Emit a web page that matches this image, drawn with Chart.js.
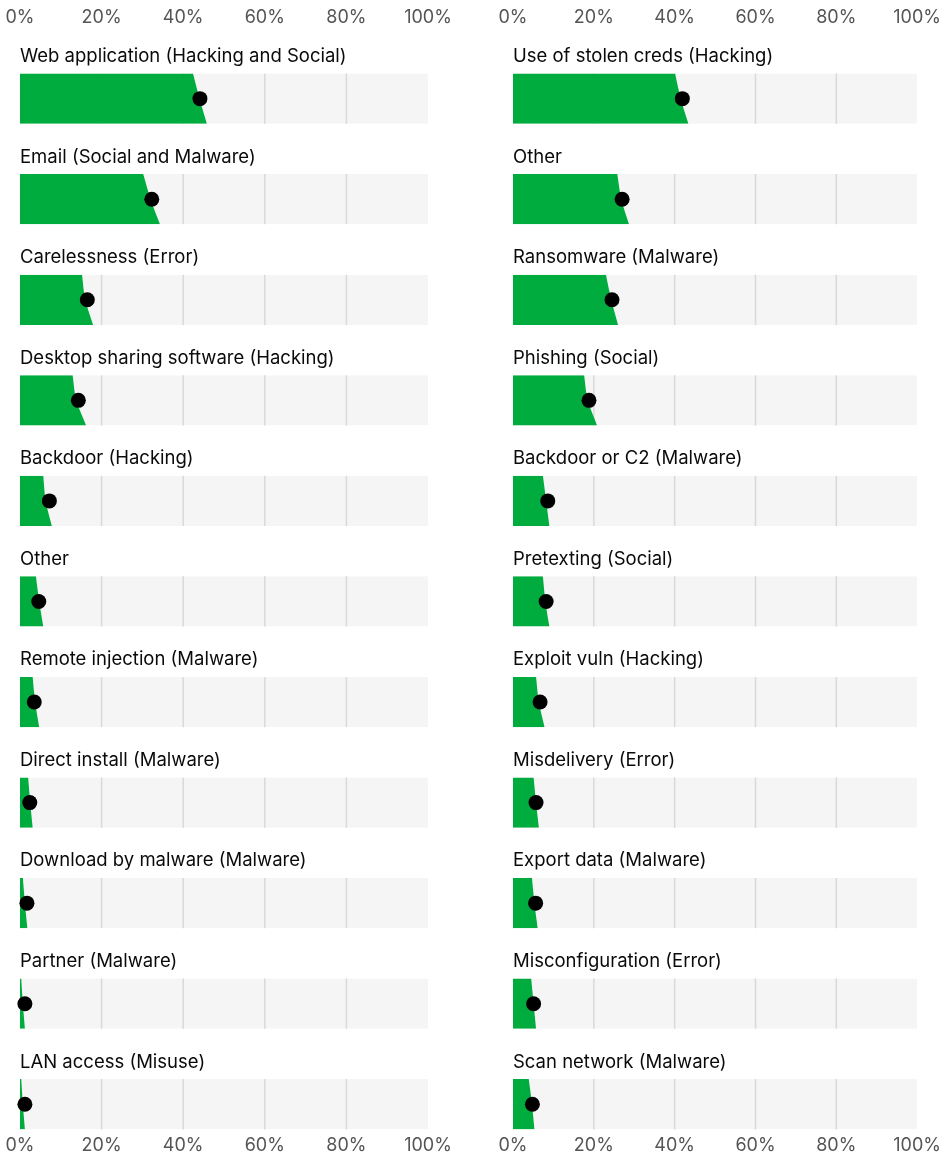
<!DOCTYPE html>
<html>
<head>
<meta charset="utf-8">
<script src="https://cdn.jsdelivr.net/npm/chart.js@4.4.1/dist/chart.umd.min.js"></script>
<style>
  html, body { margin: 0; background: #fff; }
  .wrap { display: flex; width: 946px; height: 1161px; }
  .panel { width: 473px; height: 1161px; }
</style>
</head>
<body>
<div class="wrap">
  <div class="panel"><canvas id="left" width="473" height="1161"></canvas></div>
  <div class="panel"><canvas id="right" width="473" height="1161"></canvas></div>
</div>
<script>
// axis ticks (percent)
const tickValues = [0, 20, 40, 60, 80, 100];
const gridValues = [20, 40, 60, 80];

// left panel
const leftLabels = [
  'Web application (Hacking and Social)',
  'Email (Social and Malware)',
  'Carelessness (Error)',
  'Desktop sharing software (Hacking)',
  'Backdoor (Hacking)',
  'Other',
  'Remote injection (Malware)',
  'Direct install (Malware)',
  'Download by malware (Malware)',
  'Partner (Malware)',
  'LAN access (Misuse)'
];
const leftLow  = [42.4, 30.2, 15.2, 12.9, 5.7, 3.9, 3.1, 2.0, 0.7, 0.3, 0.3];
const leftMid  = [44.0, 32.0, 16.0, 13.8, 6.3, 4.7, 3.7, 2.5, 1.2, 0.7, 0.7];
const leftHigh = [45.8, 34.3, 17.9, 16.2, 7.8, 5.7, 4.7, 3.1, 1.8, 1.2, 1.2];
const leftDot  = [44.1, 32.3, 16.5, 14.3, 7.2, 4.6, 3.5, 2.4, 1.7, 1.2, 1.2];

// right panel
const rightLabels = [
  'Use of stolen creds (Hacking)',
  'Other',
  'Ransomware (Malware)',
  'Phishing (Social)',
  'Backdoor or C2 (Malware)',
  'Pretexting (Social)',
  'Exploit vuln (Hacking)',
  'Misdelivery (Error)',
  'Export data (Malware)',
  'Misconfiguration (Error)',
  'Scan network (Malware)'
];
const rightLow  = [40.1, 25.8, 23.0, 17.6, 7.4, 7.4, 5.7, 5.1, 4.7, 4.5, 3.9];
const rightMid  = [41.5, 26.8, 24.3, 18.5, 8.2, 8.0, 6.4, 5.7, 5.3, 5.1, 4.7];
const rightHigh = [43.4, 28.7, 26.0, 20.8, 9.0, 9.0, 7.8, 6.4, 6.1, 5.7, 5.3];
const rightDot  = [41.9, 27.0, 24.5, 18.8, 8.6, 8.2, 6.7, 5.7, 5.6, 5.1, 4.8];

const GREEN = '#00ac3e';
const BAND_BG = '#f5f5f5';
const GRID = '#d9d9d9';
const HALF = 0.25;        // half band height in row units
const LABEL_OFFSET = 0.42; // label sits above its band

function buildDatasets(low, mid, high, dots) {
  const sets = [];
  // grey bands
  low.forEach((_, i) => {
    sets.push({
      type: 'line', indexAxis: 'y', xAxisID: 'x', yAxisID: 'y',
      data: [{x: 100, y: i - HALF}, {x: 100, y: i + HALF}],
      fill: 'origin', backgroundColor: BAND_BG,
      borderWidth: 0, pointRadius: 0, order: 4, clip: false
    });
  });
  // grid lines inside bands only
  gridValues.forEach(t => {
    const pts = [];
    low.forEach((_, i) => {
      pts.push({x: t, y: i - HALF}, {x: t, y: i + HALF}, {x: t, y: null});
    });
    sets.push({
      type: 'line', indexAxis: 'y', xAxisID: 'x', yAxisID: 'y',
      data: pts, borderColor: GRID, borderWidth: 1.5,
      pointRadius: 0, spanGaps: false, fill: false, order: 3, clip: false
    });
  });
  // green slabs
  low.forEach((lo, i) => {
    sets.push({
      type: 'line', indexAxis: 'y', xAxisID: 'x', yAxisID: 'y',
      data: [{x: lo, y: i - HALF}, {x: mid[i], y: i}, {x: high[i], y: i + HALF}],
      fill: 'origin', backgroundColor: GREEN,
      borderWidth: 0, pointRadius: 0,
      cubicInterpolationMode: 'monotone', order: 2, clip: false
    });
  });
  // point estimates
  sets.push({
    type: 'scatter', xAxisID: 'x', yAxisID: 'y',
    data: dots.map((v, i) => ({x: v, y: i})),
    backgroundColor: '#000', borderWidth: 0,
    pointRadius: 7.5, pointHoverRadius: 7.5, order: 1, clip: false
  });
  return sets;
}

const rowLabels = {
  id: 'rowLabels',
  afterDatasetsDraw(chart, args, opts) {
    const {ctx, scales: {x, y}} = chart;
    ctx.save();
    ctx.font = '18.5px Inter';
    ctx.fillStyle = '#0a0a0a';
    ctx.textBaseline = 'middle';
    ctx.textAlign = 'left';
    opts.labels.forEach((t, i) => {
      ctx.fillText(t, x.getPixelForValue(0), y.getPixelForValue(i - LABEL_OFFSET));
    });
    ctx.restore();
  }
};

function axisOpts(position, pad) {
  return {
    type: 'linear',
    axis: 'x',
    position: position,
    min: 0,
    max: 100,
    grid: { display: false, drawTicks: false },
    border: { display: false },
    afterBuildTicks: axis => { axis.ticks = tickValues.map(v => ({value: v})); },
    ticks: {
      padding: pad,
      color: '#555',
      font: { family: 'Inter', size: 18 },
      callback: v => v + '%'
    }
  };
}

function createChart(canvasId, labels, low, mid, high, dots, padLeft, padRight) {
  const ctx = document.getElementById(canvasId).getContext('2d');
  return new Chart(ctx, {
    type: 'scatter',
    data: { datasets: buildDatasets(low, mid, high, dots) },
    plugins: [rowLabels],
    options: {
      responsive: false,
      animation: false,
      devicePixelRatio: 1,
      layout: { padding: { left: padLeft, right: padRight, top: 4, bottom: 0 } },
      plugins: {
        legend: { display: false },
        tooltip: { enabled: false },
        rowLabels: { labels: labels }
      },
      scales: {
        x: axisOpts('top', 3),
        xb: axisOpts('bottom', 5),
        y: {
          type: 'linear',
          reverse: true,
          min: -0.667,
          max: 10.25,
          display: false
        }
      }
    }
  });
}

createChart('left', leftLabels, leftLow, leftMid, leftHigh, leftDot, 20, 45);
createChart('right', rightLabels, rightLow, rightMid, rightHigh, rightDot, 40, 22);
</script>
</body>
</html>
